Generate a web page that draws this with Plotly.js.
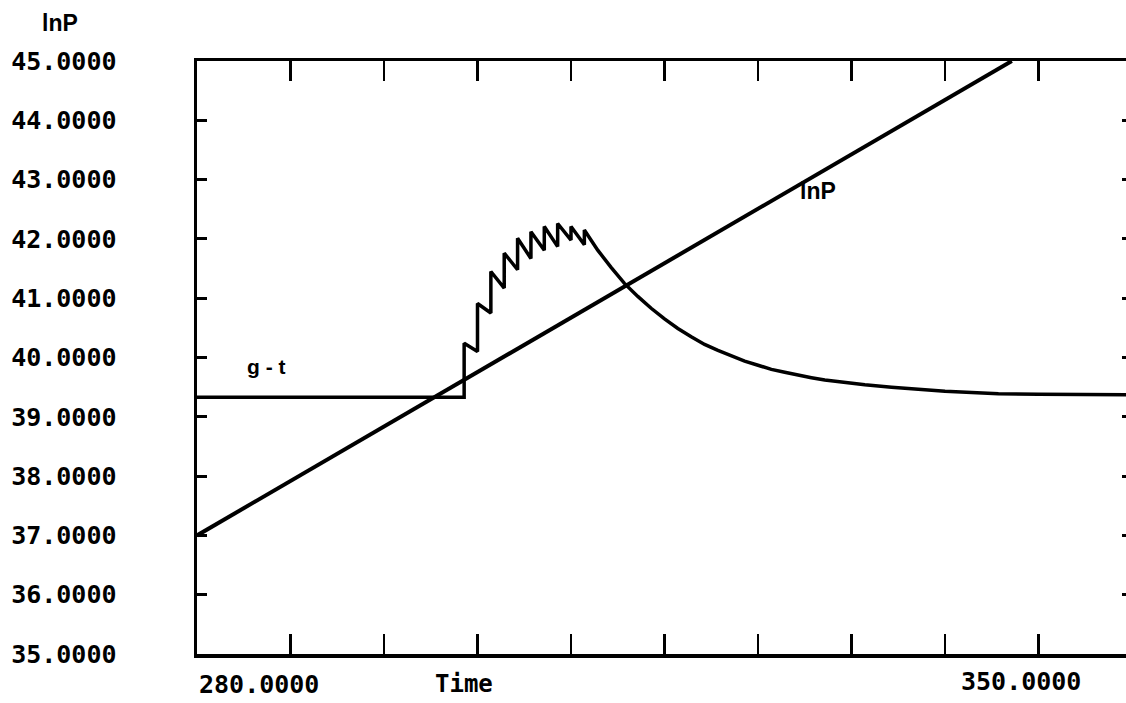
<!DOCTYPE html>
<html>
<head>
<meta charset="utf-8">
<script src="https://cdn.plot.ly/plotly-3.0.1.min.js"></script>
<style>
  html, body { margin: 0; padding: 0; background: #ffffff; }
  #chart { width: 1126px; height: 703px; }
</style>
</head>
<body>
<div id="chart"></div>
<script>
// ---- data ----
const lnpTime  = [280.0, 341.0];
const lnpValue = [37.0, 45.0];

const gtTime = [
  280.0, 300.0, 300.0, 301.0, 301.0, 302.0, 302.0, 303.0, 303.0, 304.0,
  304.0, 305.0, 305.0, 306.0, 306.0, 307.0, 307.0, 308.0, 308.0, 309.0,
  309.0, 309.5, 310.0, 311.0, 312.0, 313.0, 314.0, 315.0, 316.0, 317.0,
  318.0, 319.0, 320.0, 321.0, 322.0, 323.0, 324.0, 325.0, 326.0, 327.0,
  328.0, 329.0, 330.0, 332.0, 334.0, 336.0, 338.0, 340.0, 343.0, 346.0,
  350.0
];
const gtValue = [
  39.33, 39.33, 40.24, 40.10, 40.91, 40.75, 41.45, 41.17, 41.76, 41.48,
  42.01, 41.67, 42.12, 41.81, 42.21, 41.87, 42.26, 41.98, 42.21, 41.90,
  42.15, 41.98, 41.81, 41.52, 41.25, 41.03, 40.83, 40.65, 40.49, 40.35,
  40.22, 40.12, 40.03, 39.94, 39.87, 39.80, 39.75, 39.70, 39.66, 39.62,
  39.59, 39.56, 39.54, 39.50, 39.46, 39.43, 39.41, 39.39, 39.38, 39.37,
  39.37
];

const xTickVals   = [287, 294, 301, 308, 315, 322, 329, 336, 343];
const xTickLabels = ['280.0000', '350.0000'];
const yTickVals   = [35, 36, 37, 38, 39, 40, 41, 42, 43, 44, 45];
const yTickLabels = ['35.0000', '36.0000', '37.0000', '38.0000', '39.0000', '40.0000',
                     '41.0000', '42.0000', '43.0000', '44.0000', '45.0000'];
const seriesNames = ['lnP', 'g - t'];
const axisTitles  = { x: 'Time', y: 'lnP' };

// ---- chart ----
const mono = 'DejaVu Sans Mono, monospace';
const sans = 'Liberation Sans, Arial, sans-serif';

const traces = [
  { x: lnpTime, y: lnpValue, mode: 'lines', name: seriesNames[0],
    line: { color: '#000000', width: 4 }, hoverinfo: 'skip' },
  { x: gtTime, y: gtValue, mode: 'lines', name: seriesNames[1],
    line: { color: '#000000', width: 3.5 }, hoverinfo: 'skip' },
  { x: lnpTime, y: lnpValue, mode: 'lines', yaxis: 'y2', showlegend: false,
    line: { color: 'rgba(0,0,0,0)', width: 0 }, hoverinfo: 'skip' }
];

const layout = {
  width: 1126, height: 703,
  margin: { l: 197, r: 0, t: 61, b: 49, pad: 0 },
  paper_bgcolor: '#ffffff', plot_bgcolor: '#ffffff',
  showlegend: false,
  xaxis: {
    range: [280, 349.55],
    tickmode: 'array', tickvals: xTickVals,
    ticks: 'inside', ticklen: 20, tickwidth: 2.5, tickcolor: '#000',
    showticklabels: false,
    showline: true, linewidth: 3.5, linecolor: '#000', mirror: 'ticks',
    showgrid: false, zeroline: false, fixedrange: true
  },
  yaxis: {
    range: [35, 45],
    tickmode: 'array', tickvals: yTickVals, ticktext: yTickLabels,
    ticks: 'inside', ticklen: 10, tickwidth: 3, tickcolor: '#000',
    ticklabelstandoff: 72,
    tickfont: { family: mono, size: 25, color: '#000', weight: 'bold' },
    showline: true, linewidth: 3.5, linecolor: '#000',
    showgrid: false, zeroline: false, fixedrange: true
  },
  yaxis2: {
    overlaying: 'y', side: 'right', range: [35, 45],
    tickmode: 'array', tickvals: yTickVals,
    ticks: 'inside', ticklen: 4, tickwidth: 3, tickcolor: '#000',
    showticklabels: false, showline: false, showgrid: false, zeroline: false,
    fixedrange: true
  },
  annotations: [
    { text: axisTitles.y, xref: 'paper', yref: 'paper', x: -0.148, y: 1.0, yshift: 38,
      xanchor: 'center', yanchor: 'middle', showarrow: false,
      font: { family: sans, size: 23, color: '#000', weight: 'bold' } },
    { text: axisTitles.x, xref: 'paper', yref: 'paper', x: 0.287, y: 0, yshift: -30,
      xanchor: 'center', yanchor: 'middle', showarrow: false,
      font: { family: mono, size: 24, color: '#000', weight: 'bold' } },
    { text: xTickLabels[0], xref: 'x', yref: 'paper', x: 280, y: 0, yshift: -30,
      xanchor: 'left', yanchor: 'middle', showarrow: false,
      font: { family: mono, size: 25, color: '#000', weight: 'bold' } },
    { text: xTickLabels[1], xref: 'paper', yref: 'paper', x: 0.954, y: 0, yshift: -27,
      xanchor: 'right', yanchor: 'middle', showarrow: false,
      font: { family: mono, size: 25, color: '#000', weight: 'bold' } },
    { text: seriesNames[0], xref: 'x', yref: 'y', x: 326.5, y: 42.8,
      xanchor: 'center', yanchor: 'middle', showarrow: false,
      font: { family: sans, size: 23, color: '#000', weight: 'bold' } },
    { text: seriesNames[1], xref: 'x', yref: 'y', x: 285.2, y: 39.84,
      xanchor: 'center', yanchor: 'middle', showarrow: false,
      font: { family: sans, size: 21, color: '#000', weight: 'bold' } }
  ]
};

Plotly.newPlot('chart', traces, layout, { displayModeBar: false, staticPlot: true });
</script>
</body>
</html>
